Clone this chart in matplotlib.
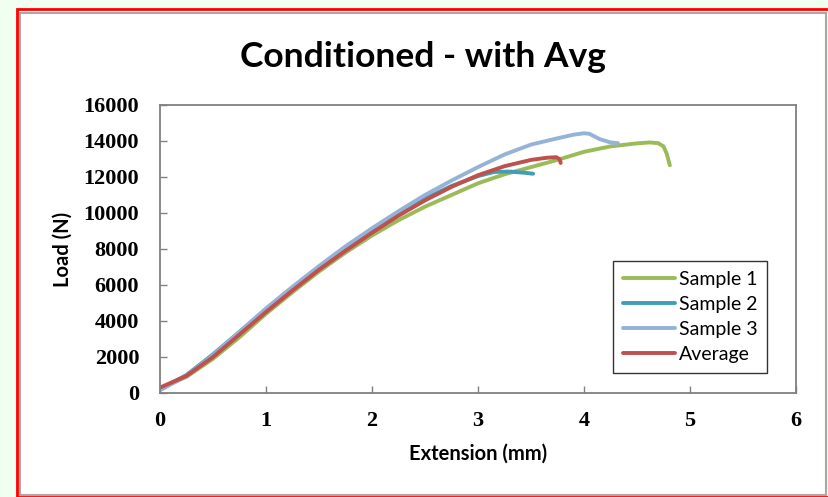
import matplotlib.pyplot as plt
from matplotlib.patches import Rectangle

# Extension (mm) and load (N) for each sample
ext_s1 = [0, 0.25, 0.5, 0.75, 1.0, 1.25, 1.5, 1.75, 2.0, 2.25, 2.5, 2.75, 3.0,
          3.25, 3.5, 3.75, 4.0, 4.25, 4.5, 4.62, 4.7, 4.75, 4.78, 4.81]
load_s1 = [250, 900, 1900, 3100, 4400, 5600, 6750, 7800, 8750, 9600, 10350, 11000,
           11650, 12150, 12550, 12950, 13400, 13700, 13870, 13920, 13880, 13700, 13300, 12650]

ext_s2 = [0, 0.25, 0.5, 0.75, 1.0, 1.25, 1.5, 1.75, 2.0, 2.25, 2.5, 2.75, 3.0,
          3.15, 3.3, 3.45, 3.52]
load_s2 = [200, 1000, 2150, 3400, 4650, 5850, 7000, 8050, 9050, 9950, 10800, 11500,
           12050, 12280, 12300, 12230, 12180]

ext_s3 = [0, 0.25, 0.5, 0.75, 1.0, 1.25, 1.5, 1.75, 2.0, 2.25, 2.5, 2.75, 3.0,
          3.25, 3.5, 3.75, 3.9, 4.0, 4.05, 4.15, 4.25, 4.32]
load_s3 = [150, 950, 2100, 3400, 4700, 5900, 7050, 8150, 9150, 10100, 11000, 11800,
           12550, 13250, 13800, 14150, 14350, 14430, 14400, 14100, 13920, 13880]

ext_avg = [0, 0.25, 0.5, 0.75, 1.0, 1.25, 1.5, 1.75, 2.0, 2.25, 2.5, 2.75, 3.0,
           3.25, 3.5, 3.65, 3.74, 3.77, 3.78]
load_avg = [300, 950, 2000, 3250, 4500, 5700, 6850, 7900, 8900, 9850, 10700, 11450,
            12100, 12600, 12950, 13070, 13100, 12980, 12780]

fig = plt.figure(figsize=(8.29, 4.97), dpi=100)
fig.patch.set_facecolor("#f0fff0")

# red outer frame and the gray chart border
W, H = 829, 497
fig.add_artist(Rectangle((17 / W, 0), 1, 1 - 9 / H, transform=fig.transFigure,
                         facecolor="none", edgecolor="#ff0000", linewidth=2))
fig.add_artist(Rectangle((20.5 / W, 2 / H), (826 - 20.5) / W, 1 - 12.5 / H - 2 / H,
                         transform=fig.transFigure, facecolor="white",
                         edgecolor="#a8a8a8", linewidth=1.5, zorder=0))

ax = fig.add_axes([160 / W, 1 - 393 / H, (796 - 160) / W, (393 - 105) / H])
ax.set_facecolor("white")

lw = 2.8
ax.plot(ext_s1, load_s1, color="#9bbb59", lw=lw, label="Sample 1", solid_capstyle="round")
ax.plot(ext_s2, load_s2, color="#3e9fb5", lw=lw, label="Sample 2", solid_capstyle="round")
ax.plot(ext_s3, load_s3, color="#95b3d7", lw=lw, label="Sample 3", solid_capstyle="round")
ax.plot(ext_avg, load_avg, color="#c0504d", lw=lw, label="Average", solid_capstyle="round")

ax.set_xlim(0, 6)
ax.set_ylim(0, 16000)
ax.set_xticks(range(0, 7))
ax.set_yticks(range(0, 16001, 2000))

for s in ax.spines.values():
    s.set_color("#808080")
    s.set_linewidth(1.3)

ax.tick_params(direction="in", length=5, color="#808080", width=1)
for lab in ax.get_xticklabels() + ax.get_yticklabels():
    lab.set_fontfamily("Liberation Serif")
    lab.set_fontweight("bold")
    lab.set_fontsize(16)
ax.tick_params(axis="x", pad=13)
ax.tick_params(axis="y", pad=15)

ax.set_xlabel("Extension (mm)", fontfamily="Lato", fontweight="bold", fontsize=14.5, labelpad=9)
ax.set_ylabel("Load (N)", fontfamily="Lato", fontweight="bold", fontsize=14.5, labelpad=8)

fig.text(423 / W, 1 - 57 / H, "Conditioned - with Avg", ha="center", va="center",
         fontfamily="Lato", fontweight="bold", fontsize=25.5)

leg = ax.legend(loc="upper left", bbox_to_anchor=(613 / W, 1 - 261 / H),
                bbox_transform=fig.transFigure, frameon=True, fancybox=False,
                prop={"family": "Lato", "size": 14}, handlelength=2.7,
                handletextpad=0.2, borderpad=0.5, labelspacing=0.42,
                borderaxespad=0)
leg.get_frame().set_edgecolor("black")
leg.get_frame().set_linewidth(1)

fig.savefig("out.png", dpi=100, facecolor=fig.get_facecolor())
